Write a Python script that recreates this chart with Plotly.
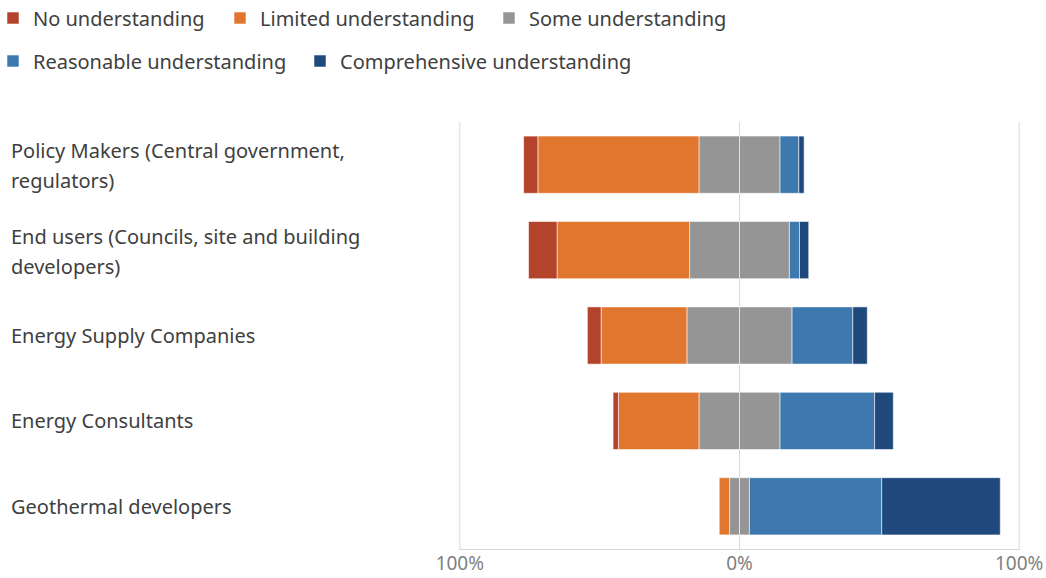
import plotly.graph_objects as go

categories = [
    "Policy Makers (Central government,<br>regulators)",
    "End users (Councils, site and building<br>developers)",
    "Energy Supply Companies",
    "Energy Consultants",
    "Geothermal developers",
]
no_und = [5.1, 10.2, 4.9, 1.9, 0.0]
limited_und = [57.6, 47.4, 30.7, 28.8, 3.7]
some_und = [29.0, 35.7, 37.6, 29.0, 7.1]
reasonable_und = [6.7, 3.6, 21.7, 33.8, 47.3]
comprehensive_und = [1.9, 3.3, 5.2, 6.7, 42.4]

tick_vals = [-100, 0, 100]
tick_text = ["100%", "0%", "100%"]

C_NO = "#B4432C"
C_LIM = "#E1762F"
C_SOME = "#959595"
C_REA = "#3D78AF"
C_COMP = "#1F497D"
C_GRID = "#d9d9d9"

FONT = "Noto Sans"
W, H = 1046, 578
L, R, T, B = 459, 26, 122, 29
PW = W - L - R

line = dict(color="rgba(255,255,255,0.55)", width=1)

fig = go.Figure()
# negative side stacks outward from zero in trace order
fig.add_trace(go.Bar(y=categories, x=[-v / 2 for v in some_und], orientation="h",
                     marker=dict(color=C_SOME, line=line), showlegend=False, name="Some understanding"))
fig.add_trace(go.Bar(y=categories, x=[-v for v in limited_und], orientation="h",
                     marker=dict(color=C_LIM, line=line), name="Limited understanding", legend="legend2"))
fig.add_trace(go.Bar(y=categories, x=[-v for v in no_und], orientation="h",
                     marker=dict(color=C_NO, line=line), name="No understanding", legend="legend"))
# positive side
fig.add_trace(go.Bar(y=categories, x=[v / 2 for v in some_und], orientation="h",
                     marker=dict(color=C_SOME, line=line), name="Some understanding", legend="legend3"))
fig.add_trace(go.Bar(y=categories, x=reasonable_und, orientation="h",
                     marker=dict(color=C_REA, line=line), name="Reasonable understanding", legend="legend4"))
fig.add_trace(go.Bar(y=categories, x=comprehensive_und, orientation="h",
                     marker=dict(color=C_COMP, line=line), name="Comprehensive understanding", legend="legend5"))

leg_font = dict(family=FONT, size=20, color="#404040")

def leg(text_x, ypx):
    return dict(xref="container", yref="container", x=max(text_x - 33, 0) / W, y=1 - ypx / H,
                xanchor="left", yanchor="middle", orientation="h", indentation=-7,
                font=leg_font, bgcolor="rgba(0,0,0,0)", borderwidth=0)

# category labels, left aligned, one annotation per text line
annotations = []
for cat in categories:
    parts = cat.split("<br>")
    if len(parts) == 1:
        shifts = [0]
    else:
        shifts = [14, -16]
    for part, sh in zip(parts, shifts):
        annotations.append(dict(
            xref="paper", yref="y", x=(10 - L) / PW, y=cat, text=part, yshift=sh,
            xanchor="left", yanchor="middle", align="left", showarrow=False,
            borderpad=0,
            font=dict(family=FONT, size=20, color="#404040"),
        ))

# gridlines at the outer ticks (plotly drops grid lines at the range ends)
shapes = [
    dict(type="line", xref="x", yref="paper", x0=v, x1=v, y0=0, y1=1,
         line=dict(color=C_GRID, width=1), layer="below")
    for v in (tick_vals[0], tick_vals[-1])
]

fig.update_layout(
    width=W, height=H,
    margin=dict(l=L, r=R, t=T, b=B, pad=0, autoexpand=False),
    barmode="relative", bargap=0.33,
    plot_bgcolor="white", paper_bgcolor="white",
    font=dict(family=FONT, color="#404040"),
    legend=leg(32, 18),
    legend2=leg(260, 18),
    legend3=leg(529, 18),
    legend4=leg(32, 61),
    legend5=leg(340, 61),
    xaxis=dict(range=[-100.3, 100.3], tickvals=tick_vals, ticktext=tick_text,
               showgrid=True, gridcolor=C_GRID, gridwidth=1, zeroline=False,
               showline=True, linecolor=C_GRID, linewidth=1, ticks="",
               automargin=False, ticklabelstandoff=-3,
               tickfont=dict(family=FONT, size=19, color="#7f7f7f"), fixedrange=True),
    yaxis=dict(autorange="reversed", showticklabels=False, showgrid=False,
               automargin=False,
               zeroline=False, showline=False, ticks=""),
    annotations=annotations,
    shapes=shapes,
)

fig.write_html("out.html")
